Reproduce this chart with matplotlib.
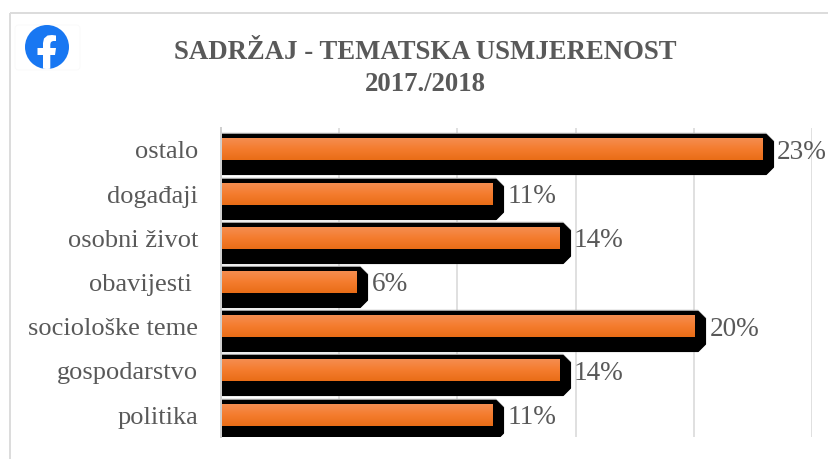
#!/usr/bin/env python3

import numpy as np
import matplotlib
matplotlib.use('Agg')
import matplotlib.pyplot as plt
import matplotlib.patheffects as pe
from matplotlib.patches import Rectangle, Circle, Polygon, FancyBboxPatch
from matplotlib.transforms import Affine2D, ScaledTranslation

categories = ['ostalo', 'događaji', 'osobni život', 'obavijesti ',
              'sociološke teme', 'gospodarstvo', 'politika']
values = [22.9, 11.5, 14.3, 5.75, 20.05, 14.3, 11.5]
value_labels = ['23%', '11%', '14%', '6%', '20%', '14%', '11%']
xticks = [0, 5, 10, 15, 20, 25]
title = 'SADRŽAJ - TEMATSKA USMJERENOST\n2017./2018'

W, H = 829, 459
plt.rcParams['font.family'] = ['Liberation Serif', 'DejaVu Serif']
fig = plt.figure(figsize=(W / 100, H / 100), dpi=100, facecolor='white')
px = 0.72  # one pixel in points

# pixel coordinates, y going down, for the frame and the logo
pix = Affine2D().scale(1, -1).translate(0, H)

fig.add_artist(Rectangle((10, 13), 830, 470, transform=pix, fill=False,
                         edgecolor='#dcdcdc', linewidth=2 * px))

ax = fig.add_axes([221 / W, 1 - 437.2 / H, (812 - 221) / W, (437.2 - 127.7) / H])
ax.set_xlim(0, 25)
ax.set_ylim(len(categories) - 0.5, -0.5)
ax.set_xticks(xticks)
ax.set_xticklabels([])
y = np.arange(len(categories))
ax.set_yticks(y)
ax.set_yticklabels(categories, fontsize=19, color='#595959', va='center')
ax.tick_params(axis='both', length=0)
ax.tick_params(axis='y', pad=16.5)
down = ScaledTranslation(0, -2.5 / 100, fig.dpi_scale_trans)
for lab in ax.get_yticklabels():
    lab.set_transform(lab.get_transform() + down)
ax.grid(axis='x', color='#d9d9d9', linewidth=1.6 * px)
ax.set_axisbelow(True)
for s in ['top', 'right', 'bottom']:
    ax.spines[s].set_visible(False)
ax.spines['left'].set_color('#d0d0d0')
ax.spines['left'].set_linewidth(2 * px)
ax.spines['left'].set_zorder(6)

# data units per pixel
ux = 25 / (812 - 221)
uy = 7 / (437.2 - 127.7)

# black backing bar, chamfered with a bevel stroke, sits lower than the orange one
bar_h = 0.475
chamfer = 7.5
back_h = (41 - 2 * chamfer) * uy
back = ax.barh(y + 4.5 * uy, np.array(values) + 3.5 * ux, height=back_h,
               color='black', zorder=3)
for b in back:
    b.set_path_effects([
        pe.Stroke(linewidth=(2 * chamfer + 1.4) * px, foreground='#a0a0a0', joinstyle='bevel'),
        pe.Stroke(linewidth=2 * chamfer * px, foreground='black', joinstyle='bevel'),
        pe.Normal(),
    ])

# vertical gradient on the orange part
grad = np.linspace(0, 1, 64).reshape(-1, 1)
cmap = matplotlib.colors.LinearSegmentedColormap.from_list(
    'bar', ['#f58d50', '#f47c2e', '#e96d17'])
for yi, v in zip(y, values):
    ax.imshow(grad, extent=(0, v, yi + bar_h / 2, yi - bar_h / 2), aspect='auto',
              cmap=cmap, zorder=4, interpolation='bilinear')
ax.set_xlim(0, 25)
ax.set_ylim(len(categories) - 0.5, -0.5)

for yi, v, lab in zip(y, values, value_labels):
    ax.annotate(lab, (v, yi), xytext=(14.5 * px, -2.5 * px), textcoords='offset points',
                va='center', ha='left', fontsize=19.6, color='#595959', zorder=5,
                annotation_clip=False)

fig.text(425.5 / W, 1 - 68.5 / H, title, ha='center', va='center', fontsize=19.3,
         fontweight='bold', color='#595959', linespacing=1.37)

# facebook logo
fig.add_artist(FancyBboxPatch((15, 25), 65, 45, boxstyle='round,pad=0,rounding_size=4',
                              transform=pix, fill=False, edgecolor='#fafafa', linewidth=0.7))
circ = Circle((47, 47), 22, transform=pix, facecolor='#1877f2', edgecolor='none')
fig.add_artist(circ)
f_shape = [(43, 70), (43, 55), (37.5, 55), (37.5, 48), (43, 48), (43, 43), (44, 38.5),
           (47.5, 35.5), (52, 35), (56, 35.5), (56, 41), (53, 41), (51, 42), (50.3, 44),
           (50.3, 48), (56, 48), (55, 55), (50.3, 55), (50.3, 70)]
f_poly = Polygon(f_shape, closed=True, transform=pix, facecolor='white', edgecolor='none')
fig.add_artist(f_poly)
f_poly.set_clip_path(circ)

fig.savefig('out.png', dpi=100)
